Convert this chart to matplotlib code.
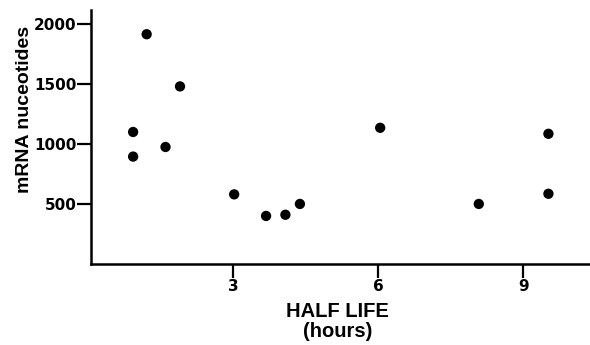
import matplotlib.pyplot as plt

# half life (hours) vs mRNA length (nucleotides)
half_life = [0.93, 0.93, 1.21, 1.60, 1.90, 3.02, 3.68, 4.08, 4.38, 6.04, 8.08, 9.52, 9.52]
nucleotides = [1100, 895, 1915, 975, 1480, 580, 400, 410, 500, 1135, 500, 1085, 585]

xticks = [3, 6, 9]
yticks = [500, 1000, 1500, 2000]

fig = plt.figure(figsize=(5.9, 3.45), dpi=100)
ax = fig.add_axes([0.154, 0.235, 0.846, 0.736])

ax.scatter(half_life, nucleotides, s=55, c='black', edgecolors='none', clip_on=False)

ax.set_xlim(0.056, 10.38)
ax.set_ylim(0, 2117)
ax.set_xticks(xticks)
ax.set_yticks(yticks)
ax.set_xticklabels([str(t) for t in xticks], fontsize=11, fontweight='bold', family='DejaVu Sans')
ax.set_yticklabels([str(t) for t in yticks], fontsize=11, fontweight='bold', family='DejaVu Sans')
ax.tick_params(direction='out', length=10, width=1.6, pad=0.5)

for side in ['top', 'right']:
    ax.spines[side].set_visible(False)
for side in ['left', 'bottom']:
    ax.spines[side].set_linewidth(1.8)

ax.set_ylabel('mRNA nuceotides', fontsize=14, fontweight='bold', family='Liberation Sans',
              va='center')
ax.yaxis.set_label_coords(-0.133, 0.61)
ax.set_xlabel('HALF LIFE\n(hours)', fontsize=14.5, fontweight='bold', family='Liberation Sans',
              linespacing=1.05)
ax.xaxis.set_label_coords(0.495, -0.15)
ax.xaxis.label.set_verticalalignment('top')

fig.savefig('out.png', dpi=100)
